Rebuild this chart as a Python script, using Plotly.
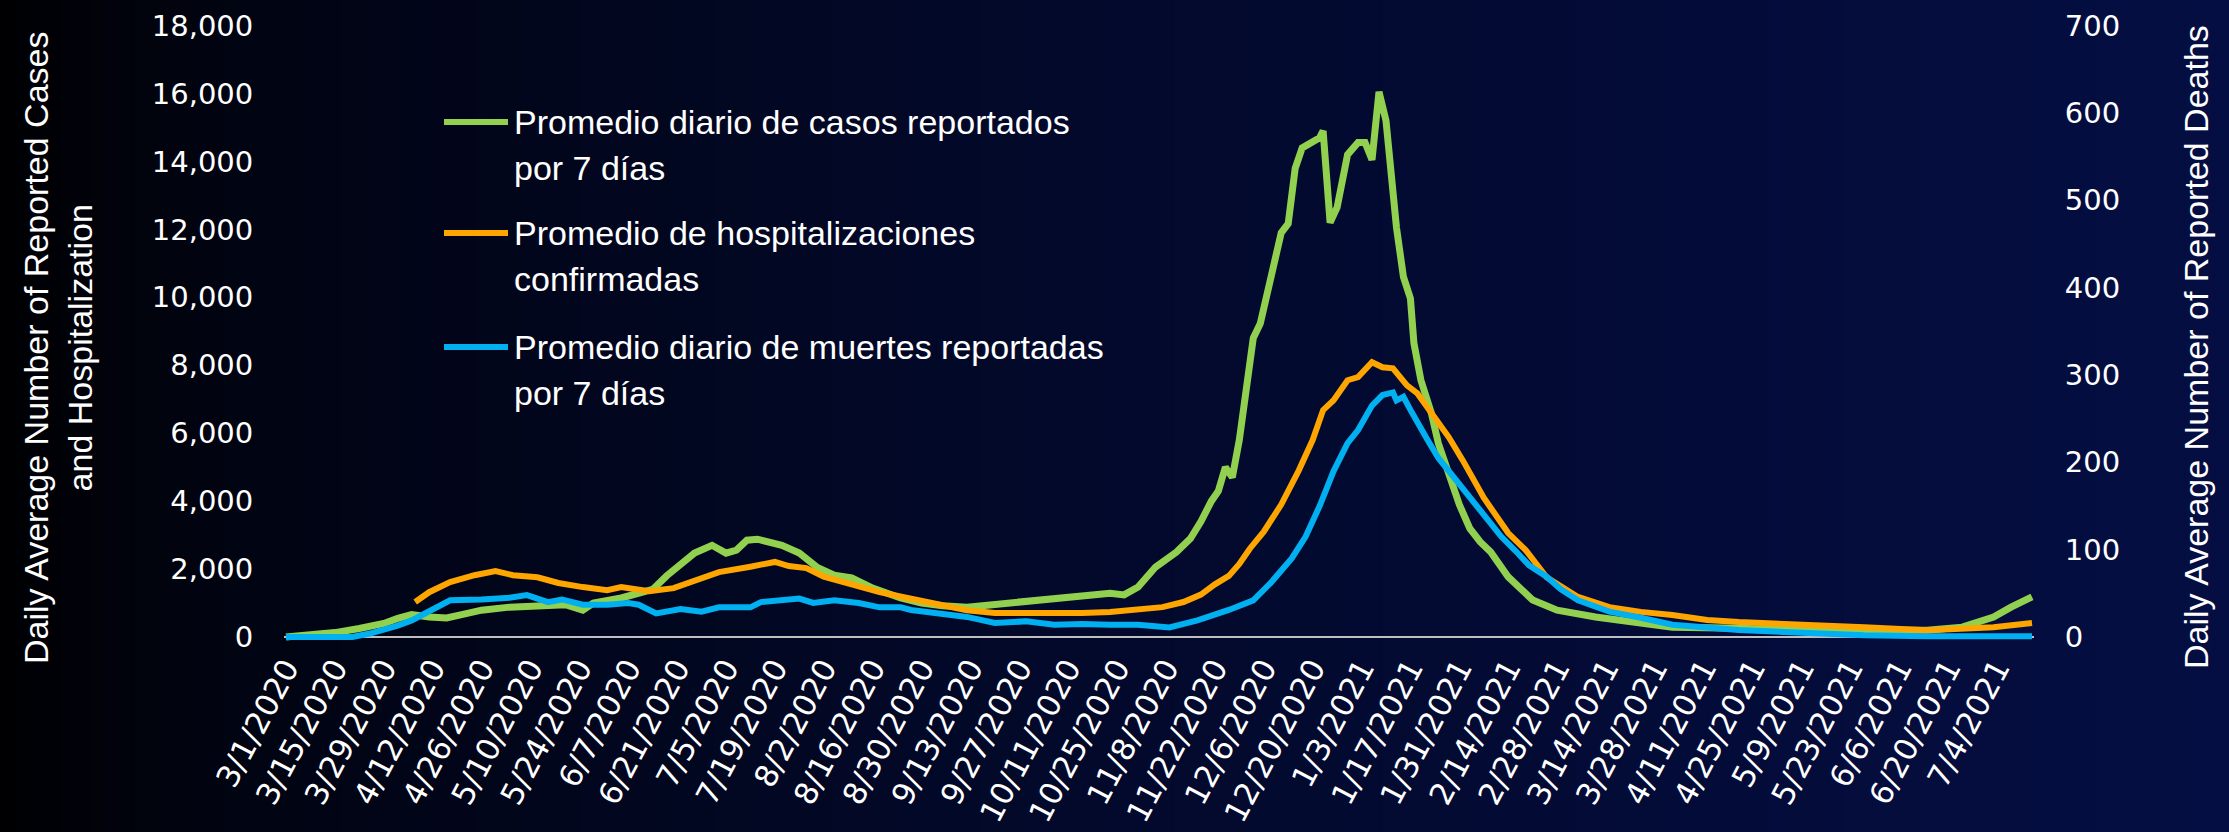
import pandas as pd
import plotly.graph_objects as go

START = pd.Timestamp('2020-03-01')

# days since 3/1/2020 and values
case_days = [0, 7, 14, 21, 28, 32, 36, 41, 46, 50, 56, 64, 72, 80, 85, 88, 96, 101, 105, 109,
             113, 117, 122, 126, 129, 132, 135, 138, 142, 147, 152, 157, 162, 168, 176, 182, 188, 195, 200, 210,
             220, 228, 236, 240, 244, 249, 255, 259, 262, 265, 267, 269, 271, 273, 275, 277, 279, 281, 283, 285,
             287, 289, 291, 294, 296, 297, 299, 301, 304, 307, 309, 311, 313, 315, 318, 320, 322, 323, 325, 328,
             330, 333, 336, 339, 342, 345, 350, 357, 364, 375, 388, 397, 416, 434, 452, 470, 480, 489, 494, 500]
case_vals = [0, 40, 130, 250, 400, 550, 660, 590, 560, 650, 790, 880, 940, 950, 790, 1000, 1150, 1300, 1400, 1800,
             2150, 2470, 2700, 2470, 2560, 2850, 2880, 2790, 2700, 2470, 2060, 1820, 1740, 1440, 1150, 1000, 920, 880, 930, 1000,
             1090, 1180, 1290, 1240, 1470, 2060, 2500, 2900, 3400, 4000, 4300, 5000, 4700, 5800, 7170, 8800, 9230, 10100, 11100, 11900,
             12170, 13800, 14400, 14560, 14700, 14900, 12200, 12650, 14200, 14560, 14560, 14050, 16050, 15200, 12060, 10600, 9970, 8650, 7560, 6590,
             5700, 4800, 3900, 3200, 2800, 2500, 1770, 1090, 790, 590, 410, 290, 260, 200, 200, 200, 290, 590, 880, 1180]

hosp_days = [37, 41, 47, 54, 60, 65, 72, 78, 85, 92, 96, 104, 111, 118, 124, 133, 140, 144, 149, 154,
             162, 170, 178, 187, 195, 203, 212, 220, 228, 236, 242, 251, 257, 262, 266, 270, 273, 276, 280, 285,
             290, 294, 297, 300, 304, 307, 311, 314, 317, 321, 324, 328, 333, 337, 343, 350, 355, 361, 370, 379,
             388, 397, 407, 416, 434, 452, 470, 480, 489, 500]
hosp_vals = [1030, 1320, 1620, 1820, 1940, 1820, 1760, 1590, 1470, 1380, 1470, 1350, 1440, 1700, 1910, 2070, 2210, 2090, 2030, 1780,
             1530, 1320, 1150, 940, 790, 710, 710, 680, 710, 740, 790, 880, 1030, 1250, 1550, 1800, 2150, 2600, 3100, 3900,
             4900, 5800, 6680, 6970, 7560, 7650, 8090, 7940, 7910, 7410, 7170, 6590, 5880, 5200, 4100, 3060, 2560, 1760, 1180, 880,
             740, 650, 500, 440, 380, 290, 200, 230, 290, 410]

death_days = [0, 19, 24, 28, 32, 36, 42, 47, 56, 64, 69, 75, 79, 85, 92, 98, 101, 106, 113, 119,
              124, 133, 136, 147, 151, 157, 164, 170, 176, 179, 187, 195, 203, 212, 220, 228, 236, 244, 253, 261,
              270, 277, 282, 288, 292, 296, 300, 304, 307, 311, 314, 317, 318, 320, 322, 324, 327, 330, 333, 336,
              340, 344, 348, 352, 356, 361, 365, 370, 379, 388, 397, 416, 434, 452, 470, 500]
death_vals = [0, 0, 4, 8, 13, 19, 31, 42, 43, 45, 48, 40, 43, 37, 37, 39, 37, 27, 32, 29,
              34, 34, 40, 44, 39, 42, 39, 34, 34, 31, 27, 23, 16, 18, 14, 15, 14, 14, 11, 19,
              31, 42, 62, 90, 115, 150, 190, 222, 237, 265, 277, 280, 271, 275, 260, 245, 225, 205, 190, 175,
              155, 135, 115, 99, 82, 69, 55, 42, 29, 22, 14, 8, 5, 2, 1, 1]

tick_dates = pd.date_range('2020-03-01', '2021-07-04', freq='14D')
tick_text = [f'{d.month}/{d.day}/{d.year}' for d in tick_dates]

GREEN = '#92D050'
ORANGE = '#FFA500'
BLUE = '#00B0F0'

W, H = 2229, 832
TICK_FONT = dict(family='DejaVu Sans', size=29, color='white')
XTICK_FONT = dict(family='DejaVu Sans', size=31, color='white')
TEXT_FONT = dict(family='Liberation Sans, Arial, sans-serif', size=34, color='white')


def to_dates(days):
    return START + pd.to_timedelta(days, unit='D')


fig = go.Figure()

fig.add_trace(go.Scatter(x=to_dates(case_days), y=case_vals, mode='lines',
                         line=dict(color=GREEN, width=7), yaxis='y'))
fig.add_trace(go.Scatter(x=to_dates(hosp_days), y=hosp_vals, mode='lines',
                         line=dict(color=ORANGE, width=6), yaxis='y'))
fig.add_trace(go.Scatter(x=to_dates(death_days), y=death_vals, mode='lines',
                         line=dict(color=BLUE, width=6), yaxis='y2'))

# background: left-to-right dark gradient
shapes = []
n = 150
for i in range(n):
    t = (i + 0.5) / n
    k = t ** 0.6
    col = f'rgb({round(4 * k)},{round(14 * k)},{round(66 * k)})'
    shapes.append(dict(type='rect', xref='paper', yref='paper', x0=i / n, x1=(i + 1) / n + 0.002,
                       y0=0, y1=1, fillcolor=col, line=dict(width=0), layer='below'))

# hand-drawn legend
legend_items = [
    (GREEN, 'Promedio diario de casos reportados', 'por 7 días', 122),
    (ORANGE, 'Promedio de hospitalizaciones', 'confirmadas', 233),
    (BLUE, 'Promedio diario de muertes reportadas', 'por 7 días', 347),
]
annotations = []
for color, l1, l2, ypx in legend_items:
    shapes.append(dict(type='line', xref='paper', yref='paper', x0=444 / W, x1=508 / W,
                       y0=1 - ypx / H, y1=1 - ypx / H, line=dict(color=color, width=6)))
    annotations.append(dict(text=l1, xref='paper', yref='paper', x=512 / W, y=1 - ypx / H,
                            xanchor='left', yanchor='middle', showarrow=False, font=TEXT_FONT))
    annotations.append(dict(text=l2, xref='paper', yref='paper', x=512 / W, y=1 - (ypx + 46) / H,
                            xanchor='left', yanchor='middle', showarrow=False, font=TEXT_FONT))

annotations.append(dict(text='Daily Average Number of Reported Cases<br>and Hospitalization',
                        xref='paper', yref='paper', x=58 / W, y=1 - 348 / H, textangle=-90,
                        xanchor='center', yanchor='middle', showarrow=False, font=TEXT_FONT))
annotations.append(dict(text='Daily Average Number of Reported Deaths',
                        xref='paper', yref='paper', x=2196 / W, y=1 - 347 / H, textangle=-90,
                        xanchor='center', yanchor='middle', showarrow=False, font=TEXT_FONT))

fig.update_layout(
    width=W,
    height=H,
    margin=dict(l=0, r=0, t=0, b=0),
    paper_bgcolor='#000000',
    plot_bgcolor='rgba(0,0,0,0)',
    showlegend=False,
    shapes=shapes,
    annotations=annotations,
)

fig.update_xaxes(
    type='date',
    domain=[284.25 / W, 2033.75 / W],
    range=[START - pd.Timedelta(hours=12), START + pd.Timedelta(days=500, hours=12)],
    tickvals=tick_dates,
    ticktext=tick_text,
    tickangle=-62,
    tickfont=XTICK_FONT,
    showgrid=False,
    zeroline=False,
    showline=False,
    ticks='',
    ticklabelstandoff=2,
    automargin=False,
)

fig.update_layout(
    yaxis=dict(
        domain=[(H - 641.1) / H, (H - 25.6) / H],
        range=[-120, 18000],
        tickvals=list(range(0, 18001, 2000)),
        tickformat=',',
        tickfont=TICK_FONT,
        showgrid=False,
        zeroline=True,
        zerolinecolor='#BFBFBF',
        zerolinewidth=2,
        ticks='',
        ticklabelstandoff=30,
        automargin=False,
    ),
    yaxis2=dict(
        overlaying='y',
        side='right',
        range=[-120 * 700 / 18000, 700],
        tickvals=list(range(0, 701, 100)),
        tickfont=TICK_FONT,
        showgrid=False,
        zeroline=False,
        ticks='',
        ticklabelstandoff=30,
        automargin=False,
    ),
)

fig.write_html("out.html", config={'displayModeBar': False},
               post_script="document.body.style.margin='0';document.body.style.background='#000';")
